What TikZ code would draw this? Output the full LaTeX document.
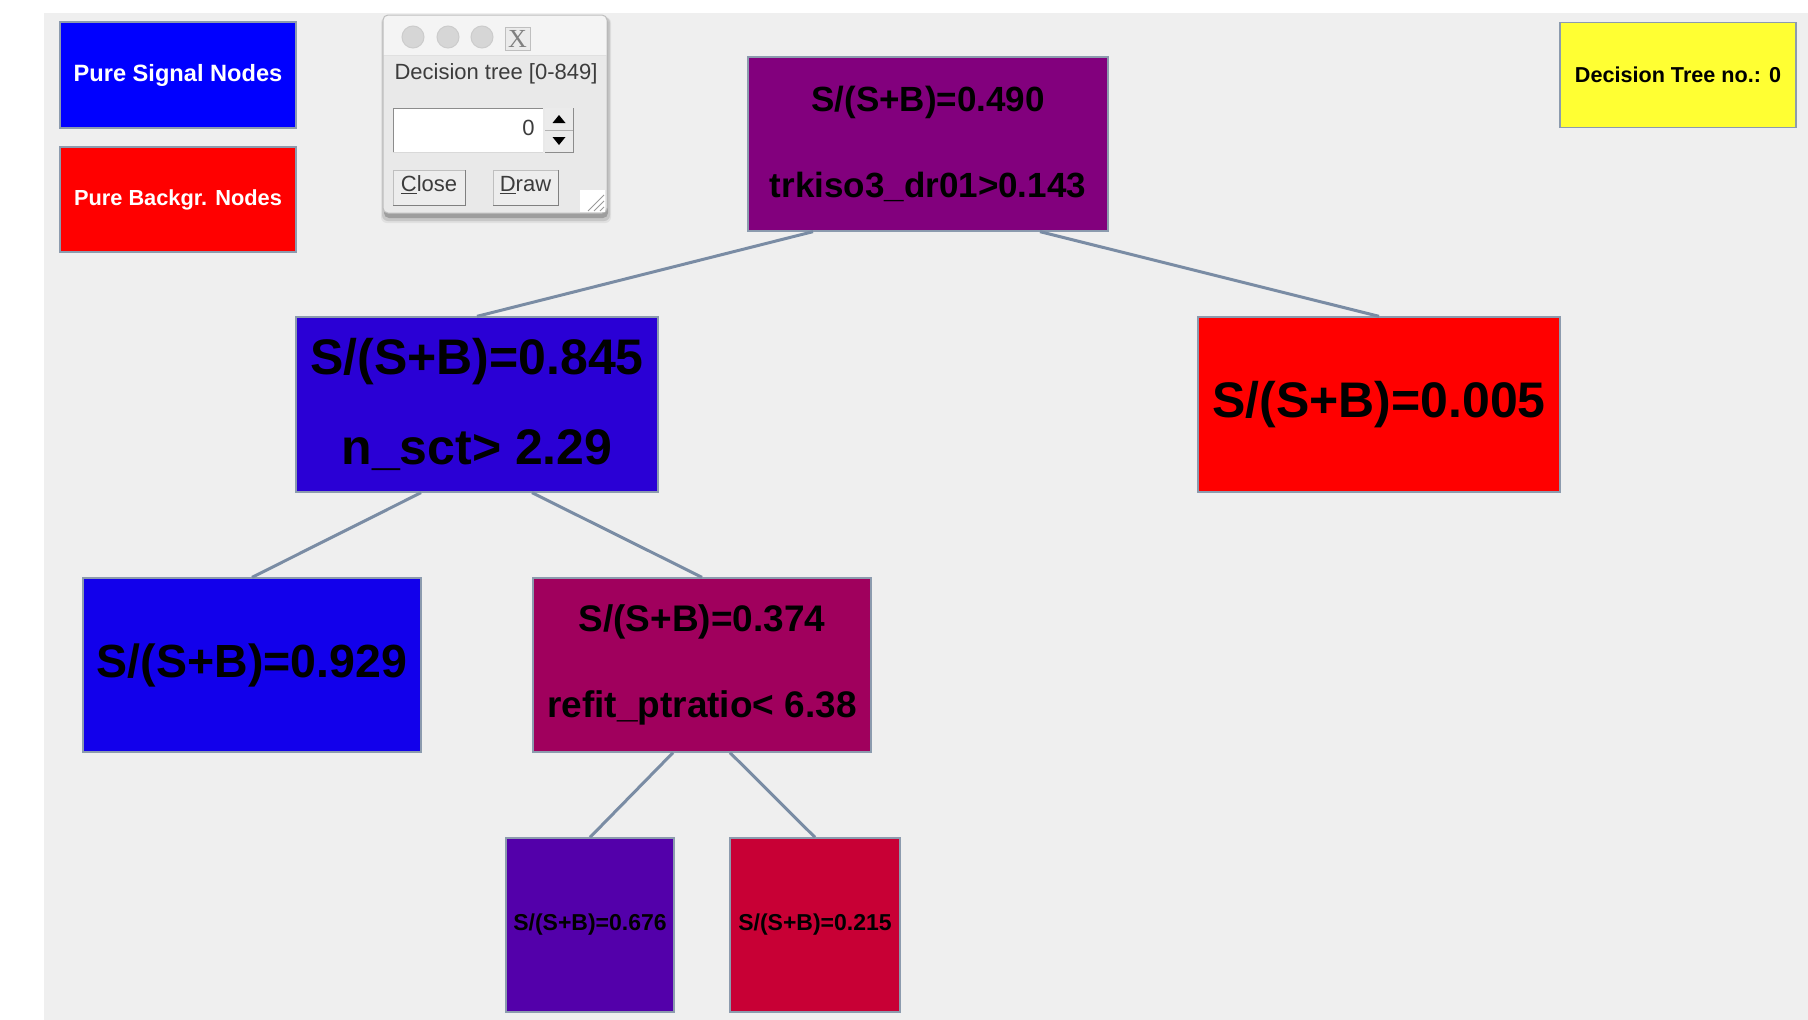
\documentclass[tikz,border=0pt]{standalone}
\usepackage{fontspec}
\setmainfont{Liberation Sans}
\newfontfamily\serifx{Liberation Serif}
\definecolor{bggray}{HTML}{EFEFEF}
\definecolor{nodeborder}{HTML}{8C9BAE}
\definecolor{edgecol}{HTML}{7A8CA4}
\definecolor{c490}{RGB}{130,0,125}
\definecolor{c845}{RGB}{42,0,213}
\definecolor{c005}{RGB}{255,0,0}
\definecolor{c929}{RGB}{18,0,235}
\definecolor{c374}{RGB}{160,0,93}
\definecolor{c676}{RGB}{83,0,170}
\definecolor{c215}{RGB}{200,0,53}
\definecolor{sigblue}{RGB}{0,0,255}
\definecolor{bkgred}{RGB}{255,0,0}
\definecolor{treeyellow}{RGB}{255,255,51}
\definecolor{dlgbody}{HTML}{E9E9E9}
\definecolor{dlgtitle}{HTML}{F4F4F4}
\definecolor{dlgtext}{HTML}{3C3C3C}
\begin{document}
\begin{tikzpicture}[x=1pt,y=-1pt,
  tn/.style={draw=nodeborder, line width=1.3pt, rectangle, inner sep=0pt, align=center},
  link/.style={draw=edgecol, line width=3pt},
  bigfont/.style={font=\fontsize{50}{90}\selectfont\bfseries},
  smallfont/.style={font=\fontsize{23}{28}\selectfont\bfseries},
  dlgfont/.style={font=\fontsize{22}{26}\selectfont, text=dlgtext, inner sep=0pt},
  btn/.style={fill=btnfill, draw=black!25, line width=1pt},
]
\colorlet{btnfill}{black!7}
\useasboundingbox (0,0) rectangle (1808,1020);
\fill[white] (0,0) rectangle (1808,1020);
\fill[bggray] (44,13) rectangle (1808,1020);

% legend and tree number
\node[tn, fill=sigblue, minimum width=236pt, minimum height=106pt, font=\fontsize{23.6}{28}\selectfont\bfseries, text=white] (legsig) at (178,75) {Pure Signal Nodes};
\node[tn, fill=bkgred, minimum width=236pt, minimum height=105pt, font=\fontsize{21.8}{28}\selectfont\bfseries, text=white] (legbkg) at (178,199.5) {Pure Backgr. Nodes};
\node[tn, fill=treeyellow, minimum width=236pt, minimum height=105pt, font=\fontsize{21.6}{26}\selectfont\bfseries] (treeno) at (1678,75) {Decision Tree no.: 0};

% tree nodes
\node[tn, fill=c490, minimum width=360pt, minimum height=174pt, font=\fontsize{35}{86}\selectfont\bfseries] (root) at (928,144) {S/(S+B)=0.490\\trkiso3\_dr01>0.143};
\node[tn, fill=c845, minimum width=362pt, minimum height=175pt, bigfont] (nsct) at (477,404.5) {S/(S+B)=0.845\\n\_sct> 2.29};
\node[tn, fill=c005, minimum width=362pt, minimum height=175pt, bigfont] (n005) at (1379,404.5) {S/(S+B)=0.005};
\node[tn, fill=c929, minimum width=338pt, minimum height=174pt, font=\fontsize{46.5}{56}\selectfont\bfseries] (n929) at (252,665) {S/(S+B)=0.929};
\node[tn, fill=c374, minimum width=338pt, minimum height=174pt, font=\fontsize{37}{86}\selectfont\bfseries] (n374) at (702,665) {S/(S+B)=0.374\\refit\_ptratio< 6.38};
\node[tn, fill=c676, minimum width=168pt, minimum height=174pt, smallfont] (n676) at (590,925) {S/(S+B)=0.676};
\node[tn, fill=c215, minimum width=170pt, minimum height=174pt, smallfont] (n215) at (815,925) {S/(S+B)=0.215};

% connectors
\draw[link] ([xshift=-115pt]root.south) -- (nsct.north);
\draw[link] ([xshift=112pt]root.south) -- (n005.north);
\draw[link] ([xshift=-56pt]nsct.south) -- (n929.north);
\draw[link] ([xshift=55pt]nsct.south) -- (n374.north);
\draw[link] ([xshift=-29pt]n374.south) -- (n676.north);
\draw[link] ([xshift=28pt]n374.south) -- (n215.north);

% dialog window
\fill[black!12, rounded corners=6pt] (381,17) rectangle (611,223);
\fill[black!22, rounded corners=6pt] (382,17) rectangle (610,221);
\fill[black!38, rounded corners=5pt] (384,17) rectangle (608,218);
\fill[dlgbody, rounded corners=5pt] (383,15) rectangle (607,213);
\fill[dlgtitle, rounded corners=5pt] (383,15) rectangle (607,55);
\fill[dlgtitle] (383,40) rectangle (607,55);
\draw[black!25, line width=1pt, rounded corners=5pt] (383,15) rectangle (607,213);
\draw[black!12, line width=1pt] (384,55) -- (606,55);
\foreach \cx in {413,448,482}
  \draw[fill=black!16, draw=black!20, line width=1pt] (\cx,37) circle (11);
\draw[fill=black!8, draw=black!25, line width=1pt] (505,27) rectangle (530,50);
\node[font=\serifx\fontsize{26}{26}\selectfont, text=black!50, inner sep=0pt] (xglyph) at (517.5,39) {X};
\node[dlgfont] (dlgtitle) at (496,74) {Decision tree [0-849]};
% spin field
\fill[white] (393,108) rectangle (543,152);
\draw[black!45, line width=1pt] (393,152) -- (393,108) -- (543,108);
\draw[black!15, line width=1pt] (393,152) -- (543,152);
\node[dlgfont] (spinval) at (528.5,128) {0};
\fill[black!8] (545,108) rectangle (573,152);
\draw[black!30, line width=1pt] (545,130) -- (573,130);
\draw[black!45, line width=1pt] (545,152) -- (573,152) -- (573,108);
\fill[black] (552.5,123) -- (565.5,123) -- (559,115) -- cycle;
\fill[black] (552.5,137) -- (565.5,137) -- (559,145) -- cycle;
% buttons
\draw[btn] (393,170) rectangle (465,205);
\draw[black!50, line width=1pt] (393,205) -- (465,205) -- (465,170);
\node[dlgfont] (closebtn) at (429,185) {\underline{C}lose};
\draw[btn] (493,170) rectangle (558,205);
\draw[black!50, line width=1pt] (493,205) -- (558,205) -- (558,170);
\node[dlgfont] (drawbtn) at (525.5,185) {\underline{D}raw};
% resize grip
\fill[white] (580,190) rectangle (605,212);
\draw[black!40, line width=1pt] (588,211) -- (604,195) (594,211) -- (604,201) (600,211) -- (604,207);
\end{tikzpicture}
\end{document}
